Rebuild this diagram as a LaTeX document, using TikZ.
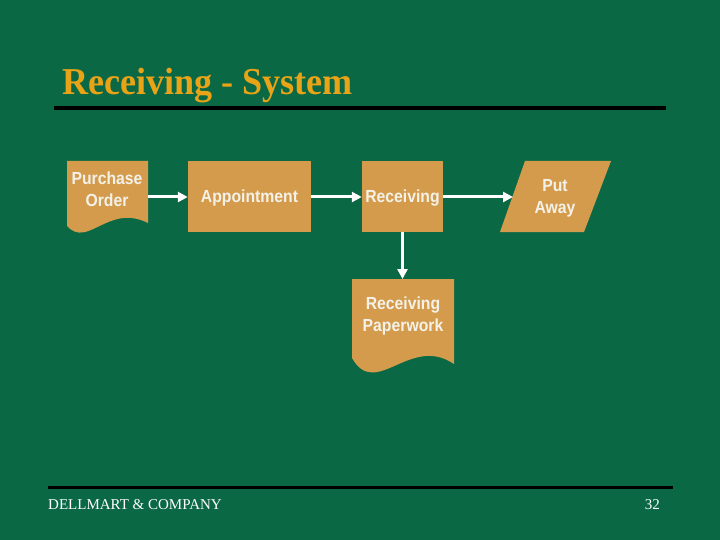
\documentclass[tikz,border=0pt]{standalone}
\usepackage{fontspec}
\usepackage{graphicx}
\setmainfont{Liberation Serif}
\newfontfamily\boxsans[FakeStretch=0.9]{Liberation Sans}
\usetikzlibrary{arrows.meta}
\definecolor{bggreen}{HTML}{0A6845}
\definecolor{boxfill}{HTML}{D49B4C}
\definecolor{titlegold}{HTML}{E8A317}
\definecolor{boxtext}{HTML}{F4F2E8}
\tikzset{
  shapefill/.style={fill=boxfill, draw=none},
  boxlabel/.style={text=boxtext, font=\boxsans\bfseries\fontsize{17.5}{22}\selectfont, align=center, inner sep=0pt},
  procbox/.style={shapefill, boxlabel, minimum width=#1, minimum height=71, text height=12.5, text depth=0},
  flowarrow/.style={draw=white, line width=3, -{Triangle[width=10,length=10]}},
  rulebar/.style={draw=black, line width=4.5}
}
\begin{document}
\begin{tikzpicture}[x=1pt,y=-1pt]
\fill[bggreen] (0,0) rectangle (720,540);
\useasboundingbox (0,0) rectangle (720,540);

% title
\node[anchor=base west, inner sep=0pt, text=titlegold, font=\bfseries\fontsize{38}{38}\selectfont] (title) at (62,95) {\scalebox{0.95}[1]{Receiving - System}};
\coordinate (tl) at (54,108);
\coordinate (tr) at (666,108);
\draw[rulebar] (tl) -- (tr);

% Purchase Order document
\fill[shapefill] (67,161) -- (148,161) -- (148,223) .. controls (108,203) and (88,249) .. (67,226) -- cycle;
\node[boxlabel] (po) at (107,189) {Purchase\\Order};
\coordinate (poE) at (148,197);

% Appointment
\node[procbox=123] (app) at (249.5,196.5) {Appointment};

% Receiving
\node[procbox=81] (rec) at (402.5,196.5) {Receiving};

% Put Away parallelogram
\fill[shapefill] (525,161) -- (611,161) -- (584,232) -- (500,232) -- cycle;
\node[boxlabel] (put) at (555,198) {Put\\Away};
\coordinate (putW) at (513,197);

% Receiving Paperwork document
\fill[shapefill] (352,279) -- (454,279) -- (454,364) .. controls (410,334) and (376,400) .. (352,358) -- cycle;
\node[boxlabel] (rp) at (403,316) {Receiving\\Paperwork};
\coordinate (rpN) at (402.5,279);

% connectors
\draw[flowarrow] (poE) -- (app.west |- poE);
\draw[flowarrow] (app.east |- poE) -- (rec.west |- poE);
\draw[flowarrow] (rec.east |- putW) -- (putW);
\draw[flowarrow] (rec.south) -- (rpN);

% footer
\coordinate (fl) at (48,487);
\coordinate (fr) at (673,487);
\draw[draw=black, line width=3] (fl) -- (fr);
\node[anchor=base west, inner sep=0pt, text=white, font=\fontsize{15}{15}\selectfont] (company) at (48,509) {DELLMART \& COMPANY};
\node[anchor=base east, inner sep=0pt, text=white, font=\fontsize{15}{15}\selectfont] (page) at (660,509) {32};
\end{tikzpicture}
\end{document}
